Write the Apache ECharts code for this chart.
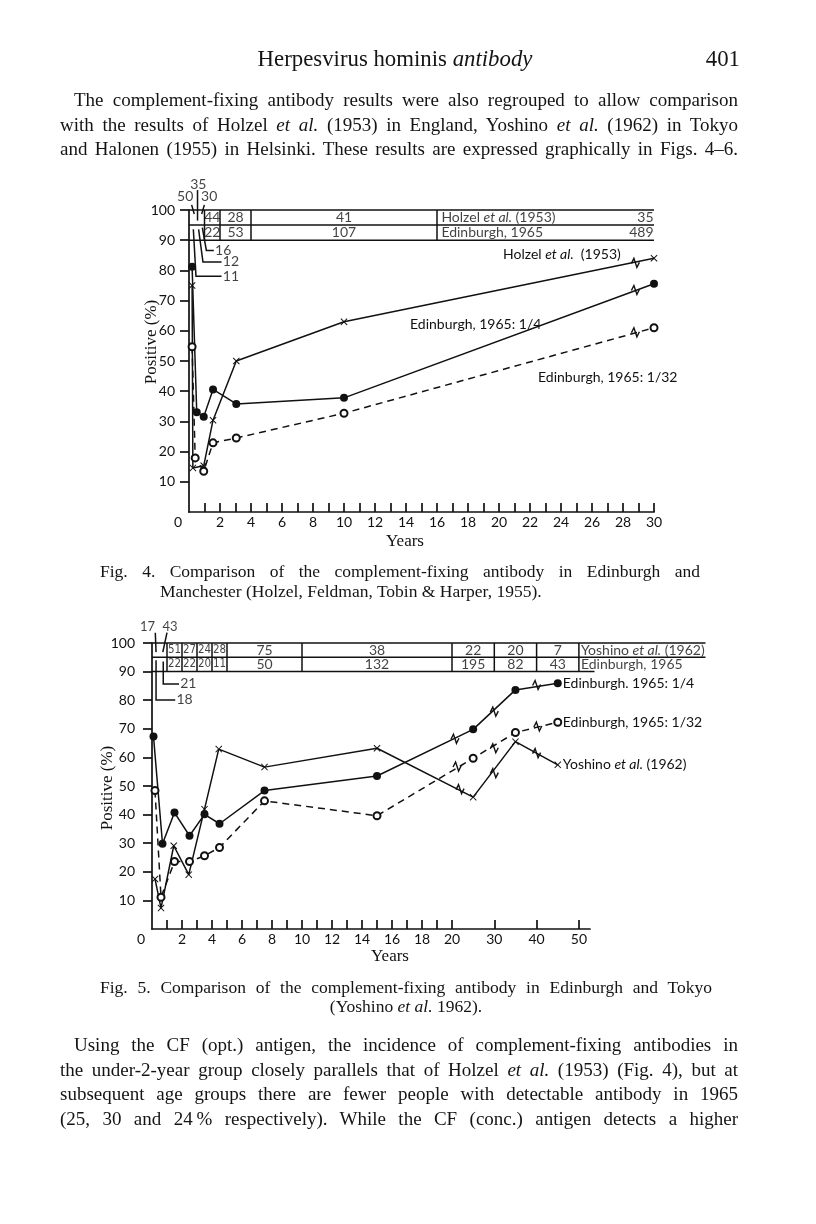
<!DOCTYPE html>
<html><head><meta charset="utf-8">
<script src="https://cdn.jsdelivr.net/npm/echarts@6/dist/echarts.min.js"></script>
<style>
html,body{margin:0;padding:0;background:#fff;}
#wrap{position:relative;width:816px;height:1224px;overflow:hidden;background:#fff;}
#chart{position:absolute;left:0;top:0;width:816px;height:1224px;}
.t{position:absolute;font-family:"Liberation Serif","DejaVu Serif",serif;color:#141414;white-space:nowrap;line-height:24px;}
.p{font-size:19px;}
.c{font-size:17.5px;}
.j{text-align:justify;text-align-last:justify;}
</style></head>
<body><div id="wrap"><div id="chart"></div>
<div class="t" style="left:195px;top:47px;width:400px;text-align:center;font-size:22.8px;">Herpesvirus hominis <i>antibody</i></div>
<div class="t" style="left:680px;top:47px;width:60px;text-align:right;font-size:22.8px;">401</div>

<div class="t p j" style="left:74px;top:88px;width:664px;">The complement-fixing antibody results were also regrouped to allow comparison</div>
<div class="t p j" style="left:60px;top:113px;width:678px;">with the results of Holzel <i>et al.</i> (1953) in England, Yoshino <i>et al.</i> (1962) in Tokyo</div>
<div class="t p j" style="left:60px;top:137px;width:678px;">and Halonen (1955) in Helsinki. These results are expressed graphically in Figs. 4–6.</div>

<div class="t c j" style="left:100px;top:559px;width:600px;">Fig. 4. Comparison of the complement-fixing antibody in Edinburgh and</div>
<div class="t c" style="left:160px;top:579px;">Manchester (Holzel, Feldman, Tobin &amp; Harper, 1955).</div>

<div class="t c j" style="left:100px;top:975px;width:612px;">Fig. 5. Comparison of the complement-fixing antibody in Edinburgh and Tokyo</div>
<div class="t c" style="left:256px;top:994px;width:300px;text-align:center;">(Yoshino <i>et al.</i> 1962).</div>

<div class="t p j" style="left:74px;top:1033px;width:664px;">Using the CF (opt.) antigen, the incidence of complement-fixing antibodies in</div>
<div class="t p j" style="left:60px;top:1058px;width:678px;">the under-2-year group closely parallels that of Holzel <i>et al.</i> (1953) (Fig. 4), but at</div>
<div class="t p j" style="left:60px;top:1082px;width:678px;">subsequent age groups there are fewer people with detectable antibody in 1965</div>
<div class="t p j" style="left:60px;top:1107px;width:678px;">(25, 30 and 24&#8201;% respectively). While the CF (conc.) antigen detects a higher</div>
</div>
<script>
// ================= DATA =================
// ---- Fig. 4 (Edinburgh vs Holzel et al. 1953), x = age in years ----
const f4HolzelYears = [0.2, 0.25, 0.95, 1.55, 3.05, 10, 30];
const f4HolzelPct   = [75, 14.6, 15.3, 30.4, 50, 63, 84];
const f4Edin4Years  = [0.2, 0.5, 0.95, 1.55, 3.05, 10, 30];
const f4Edin4Pct    = [81.2, 33, 31.5, 40.6, 35.8, 37.8, 75.6];
const f4Edin32Years = [0.2, 0.4, 0.95, 1.55, 3.05, 10, 30];
const f4Edin32Pct   = [54.7, 17.9, 13.5, 22.9, 24.5, 32.7, 61];
const f4XTickValues  = [1,2,3,4,5,6,7,8,9,10,11,12,13,14,15,16,17,18,19,20,21,22,23,24,25,26,27,28,29,30];
const f4XLabelValues = [0,2,4,6,8,10,12,14,16,18,20,22,24,26,28,30];
const f4YLabelValues = [10,20,30,40,50,60,70,80,90,100];
// table of numbers tested
const f4ColEdges   = [1, 2, 4, 16];
const f4ColCenters = [1.5, 3, 10];
const f4HolzelN    = ['44', '28', '41'];
const f4EdinN      = ['22', '53', '107'];
const f4HolzelLastN = '35';
const f4EdinLastN   = '489';
const f4HolzelSubN  = ['50', '35', '30'];
const f4EdinSubN    = ['11', '12', '16'];
const f4Breaks = [[28.8, 82.5], [28.8, 73.5], [28.8, 59.5]];

// ---- Fig. 5 (Edinburgh vs Yoshino et al. 1962) ----
const f5Edin4Years  = [0.1, 0.7, 1.5, 2.5, 3.5, 4.5, 7.5, 15, 25, 35, 45];
const f5Edin4Pct    = [67.3, 29.8, 40.7, 32.6, 40.1, 36.8, 48.4, 53.5, 69.8, 83.6, 85.9];
const f5Edin32Years = [0.2, 0.6, 1.5, 2.5, 3.5, 4.5, 7.5, 15, 25, 35, 45];
const f5Edin32Pct   = [48.4, 11.1, 23.6, 23.6, 25.6, 28.5, 44.8, 39.6, 59.7, 68.7, 72.3];
const f5YoshYears   = [0.2, 0.6, 1.45, 2.45, 3.5, 4.45, 7.5, 15, 25, 35, 45];
const f5YoshPct     = [17.5, 7.3, 29.1, 19, 41.9, 62.9, 56.6, 63.2, 46.1, 65.5, 57.4];
const f5XTickYears  = [1,2,3,4,5,6,7,8,9,10,11,12,13,14,15,16,17,18,19,20,30,40,50];
const f5XLabelYears = [0,2,4,6,8,10,12,14,16,18,20,30,40,50];
const f5YLabelValues = [10,20,30,40,50,60,70,80,90,100];
const f5ColEdges   = [1, 2, 3, 4, 5, 10, 20, 30, 40, 50];
const f5ColCenters = [1.5, 2.5, 3.5, 4.5, 7.5, 15, 25, 35, 45];
const f5YoshN = ['51', '27', '24', '28', '75', '38', '22', '20', '7'];
const f5EdinN = ['22', '22', '20', '11', '50', '132', '195', '82', '43'];
const f5YoshSubN = ['17', '43'];
const f5EdinSubN = ['18', '21'];
const f5Breaks4  = [[20.7, 66.5], [30, 76], [40, 85.3]];
const f5Breaks32 = [[21.2, 56.8], [30, 63.2], [40.3, 70.8]];
const f5BreaksY  = [[21.9, 48.9], [30, 54.5], [40, 61.5]];

// ================= STYLE / HELPERS =================
const INK = '#111';
const SANS = 'Lato, "Open Sans", "DejaVu Sans", sans-serif';
const NARROW = '"DejaVu Sans Condensed", "Liberation Sans Narrow", Lato, sans-serif';
const SERIF = '"Liberation Serif", "DejaVu Serif", serif';
// Fig. 5 axis is compressed beyond 20 years
const K5 = 0.282;
const t5 = y => (y <= 20 ? y : 20 + (y - 20) * K5);
const inv5 = t => (t <= 20.0001 ? t : Math.round(20 + (t - 20) / K5));
const zip = (xs, ys, f) => xs.map((x, i) => [f ? f(x) : x, ys[i]]);

const XSYM = 'path://M1,0 L5,4 L9,0 L10,1 L6,5 L10,9 L9,10 L5,6 L1,10 L0,9 L4,5 L0,1 Z';

function breakItem(params, api) {
  const p = api.coord([api.value(0), api.value(1)]);
  const x = p[0], y = p[1];
  return {
    type: 'polyline',
    shape: { points: [[x - 4, y + 0.5], [x - 1.5, y - 4.5], [x + 1.5, y + 4.5], [x + 4, y - 0.5]] },
    style: { stroke: INK, lineWidth: 1.4, fill: null }
  };
}

function xAxisCfg(grid, max, ticks, labels, fmt) {
  return {
    gridIndex: grid, type: 'value', min: 0, max: max,
    axisLine: { show: true, lineStyle: { color: INK, width: 1.7 } },
    axisTick: { show: true, inside: true, length: 9, customValues: ticks, lineStyle: { color: INK, width: 1.7 } },
    axisLabel: {
      show: true, customValues: labels, margin: 3, color: INK, fontFamily: SANS, fontSize: 14,
      formatter: v => (v === 0 ? '{z|0}' : String(fmt ? fmt(v) : v)),
      rich: { z: { padding: [0, 22, 0, 0], color: INK, fontFamily: SANS, fontSize: 14 } }
    },
    splitLine: { show: false }
  };
}
function yAxisCfg(grid, margin, vals) {
  return {
    gridIndex: grid, type: 'value', min: 0, max: 100,
    axisLine: { show: true, lineStyle: { color: INK, width: 1.7 } },
    axisTick: { show: true, inside: false, length: 9, customValues: vals, lineStyle: { color: INK, width: 1.7 } },
    axisLabel: { show: true, customValues: vals, margin: margin, color: INK, fontFamily: SANS, fontSize: 14 },
    splitLine: { show: false }
  };
}
function lineSeries(g, data, symbol, size, dashed, extra) {
  return Object.assign({
    type: 'line', xAxisIndex: g, yAxisIndex: g, data: data,
    symbol: symbol, symbolSize: size, showSymbol: true, clip: false, z: 3,
    lineStyle: { color: INK, width: 1.5, type: dashed ? [7, 5] : 'solid' },
    itemStyle: symbol === 'emptyCircle' ? { color: INK, borderColor: INK, borderWidth: 1.4 } : { color: INK },
    emphasis: { disabled: true }
  }, extra || {});
}
function textSeries(g, data) {
  return {
    type: 'scatter', xAxisIndex: g, yAxisIndex: g, symbolSize: 1, clip: false, silent: true, z: 6,
    itemStyle: { color: 'rgba(0,0,0,0)' },
    label: {
      show: true, position: 'inside', formatter: p => p.name, color: INK, fontFamily: SANS, fontSize: 14,
      rich: { a: { color: INK, fontFamily: SANS, fontSize: 14 }, b: { color: INK, fontFamily: SANS, fontSize: 14, fontStyle: 'italic' } }
    },
    data: data
  };
}
function segSeries(g, segs) {
  return {
    type: 'lines', coordinateSystem: 'cartesian2d', xAxisIndex: g, yAxisIndex: g, polyline: true,
    clip: false, silent: true, z: 4,
    lineStyle: { color: INK, width: 1.5, opacity: 1, curveness: 0 },
    data: segs.map(c => ({ coords: c }))
  };
}

// ---- Fig. 4 table ----
const F4R = 30;
const RIGHT = { position: 'right', distance: 0 };
const f4Segs = [
  [[0, 100], [F4R, 100]], [[0, 95], [F4R, 95]], [[0, 90], [F4R, 90]],
  ...f4ColEdges.map(e => [[e, 100], [e, 90]]),
  // leaders of the first-year sub-groups
  [[0.17, 101.7], [0.34, 98.7]],
  [[0.55, 106.6], [0.55, 96.5]],
  [[0.99, 101.7], [0.82, 98.7]],
  [[0.28, 93.6], [0.45, 78.1], [2.1, 78.1]],
  [[0.62, 93.6], [0.9, 82.8], [2.1, 82.8]],
  [[0.86, 94.2], [1.12, 86.6], [1.6, 86.6]]
];
const f4Text = [
  ...f4ColCenters.map((c, i) => ({ name: f4HolzelN[i], value: [c, 97.5] })),
  ...f4ColCenters.map((c, i) => ({ name: f4EdinN[i], value: [c, 92.5] })),
  { name: '{a|Holzel }{b|et al.}{a| (1953)}', value: [f4ColEdges[3] + 0.25, 97.5], label: RIGHT },
  { name: 'Edinburgh, 1965', value: [f4ColEdges[3] + 0.25, 92.5], label: RIGHT },
  { name: f4HolzelLastN, value: [F4R, 97.5], label: { position: 'left', distance: 0 } },
  { name: f4EdinLastN, value: [F4R, 92.5], label: { position: 'left', distance: 0 } },
  { name: f4HolzelSubN[0], value: [-0.25, 104.4] },
  { name: f4HolzelSubN[1], value: [0.6, 108.6] },
  { name: f4HolzelSubN[2], value: [1.3, 104.4] },
  { name: f4EdinSubN[0], value: [2.15, 78.1], label: RIGHT },
  { name: f4EdinSubN[1], value: [2.15, 82.8], label: RIGHT },
  { name: f4EdinSubN[2], value: [1.65, 86.6], label: RIGHT }
];

// ---- Fig. 5 table ----
const F5R_TOP = 36.9, F5R_BOT = 29.5; // axis units
const NARROWLBL = { fontFamily: NARROW, fontSize: 11.5 };
const f5Segs = [
  [[0, 100], [F5R_TOP, 100]], [[0, 95], [F5R_TOP, 95]], [[0, 90], [F5R_BOT, 90]],
  ...f5ColEdges.map(e => [[t5(e), 100], [t5(e), 90]]),
  [[0.22, 103.6], [0.27, 96.8]],
  [[1.0, 103.6], [0.72, 96.8]],
  [[0.27, 94], [0.27, 80.1], [1.55, 80.1]],
  [[0.75, 93.5], [0.75, 85.7], [1.8, 85.7]]
];
const f5Text = [
  ...f5ColCenters.map((c, i) => ({ name: f5YoshN[i], value: [t5(c), 97.5], label: c < 5 ? NARROWLBL : {} })),
  ...f5ColCenters.map((c, i) => ({ name: f5EdinN[i], value: [t5(c), 92.5], label: c < 5 ? NARROWLBL : {} })),
  { name: '{a|Yoshino }{b|et al.}{a| (1962)}', value: [t5(50) + 0.1, 97.5], label: RIGHT },
  { name: 'Edinburgh, 1965', value: [t5(50) + 0.1, 92.5], label: RIGHT },
  { name: f5YoshSubN[0], value: [-0.3, 105.8], label: { fontSize: 13 } },
  { name: f5YoshSubN[1], value: [1.2, 105.8], label: { fontSize: 13 } },
  { name: f5EdinSubN[0], value: [1.6, 80.1], label: RIGHT },
  { name: f5EdinSubN[1], value: [1.85, 85.7], label: RIGHT }
];

const endLbl = (txt) => ({
  show: true, formatter: txt, distance: 5, color: INK, fontFamily: SANS, fontSize: 14,
  rich: { a: { color: INK, fontFamily: SANS, fontSize: 14 }, b: { color: INK, fontFamily: SANS, fontSize: 14, fontStyle: 'italic' } }
});

const option = {
  animation: false,
  backgroundColor: '#fff',
  textStyle: { fontFamily: SANS, color: INK },
  grid: [
    { left: 189, top: 210, width: 465, height: 302, outerBoundsMode: 'none', containLabel: false },
    { left: 152, top: 643, width: 438, height: 286, outerBoundsMode: 'none', containLabel: false }
  ],
  xAxis: [
    xAxisCfg(0, 30, f4XTickValues, f4XLabelValues),
    xAxisCfg(1, 29.2, f5XTickYears.map(t5), f5XLabelYears.map(t5), inv5)
  ],
  yAxis: [yAxisCfg(0, 14, f4YLabelValues), yAxisCfg(1, 17, f5YLabelValues)],
  series: [
    // Fig. 4
    lineSeries(0, zip(f4HolzelYears, f4HolzelPct), XSYM, 7, false),
    lineSeries(0, zip(f4Edin4Years, f4Edin4Pct), 'circle', 8, false),
    lineSeries(0, zip(f4Edin32Years, f4Edin32Pct), 'emptyCircle', 7, true),
    { type: 'custom', xAxisIndex: 0, yAxisIndex: 0, renderItem: breakItem, data: f4Breaks, z: 5, silent: true, clip: false },
    segSeries(0, f4Segs),
    textSeries(0, f4Text),
    // Fig. 5
    lineSeries(1, zip(f5Edin4Years, f5Edin4Pct, t5), 'circle', 8, false, { endLabel: endLbl('Edinburgh. 1965: 1/4') }),
    lineSeries(1, zip(f5Edin32Years, f5Edin32Pct, t5), 'emptyCircle', 7, true, { endLabel: endLbl('Edinburgh, 1965: 1/32') }),
    lineSeries(1, zip(f5YoshYears, f5YoshPct, t5), XSYM, 7, false, { endLabel: endLbl('{a|Yoshino }{b|et al.}{a| (1962)}') }),
    { type: 'custom', xAxisIndex: 1, yAxisIndex: 1, renderItem: breakItem,
      data: [...f5Breaks4, ...f5Breaks32, ...f5BreaksY].map(d => [t5(d[0]), d[1]]), z: 5, silent: true, clip: false },
    segSeries(1, f5Segs),
    textSeries(1, f5Text)
  ],
  graphic: [
    { type: 'text', x: 152, y: 342, rotation: Math.PI / 2,
      style: { text: 'Positive (%)', fill: INK, font: '17px ' + SERIF, textAlign: 'center', textVerticalAlign: 'middle' } },
    { type: 'text', x: 405, y: 542,
      style: { text: 'Years', fill: INK, font: '17px ' + SERIF, textAlign: 'center', textVerticalAlign: 'middle' } },
    { type: 'text', x: 108, y: 788, rotation: Math.PI / 2,
      style: { text: 'Positive (%)', fill: INK, font: '17px ' + SERIF, textAlign: 'center', textVerticalAlign: 'middle' } },
    { type: 'text', x: 390, y: 957,
      style: { text: 'Years', fill: INK, font: '17px ' + SERIF, textAlign: 'center', textVerticalAlign: 'middle' } },
    { type: 'text', x: 503, y: 254,
      style: { text: '{a|Holzel }{b|et al.}{a|  (1953)}', textVerticalAlign: 'middle', fill: INK,
        rich: { a: { fill: INK, font: '14px ' + SANS }, b: { fill: INK, font: 'italic 14px ' + SANS } } } },
    { type: 'text', x: 410, y: 324,
      style: { text: 'Edinburgh, 1965: 1/4', fill: INK, font: '14px ' + SANS, textVerticalAlign: 'middle' } },
    { type: 'text', x: 538, y: 377,
      style: { text: 'Edinburgh, 1965: 1/32', fill: INK, font: '14px ' + SANS, textVerticalAlign: 'middle' } }
  ]
};

const chart = echarts.init(document.getElementById('chart'), null, { renderer: 'canvas' });
chart.setOption(option);
</script>
</body></html>
